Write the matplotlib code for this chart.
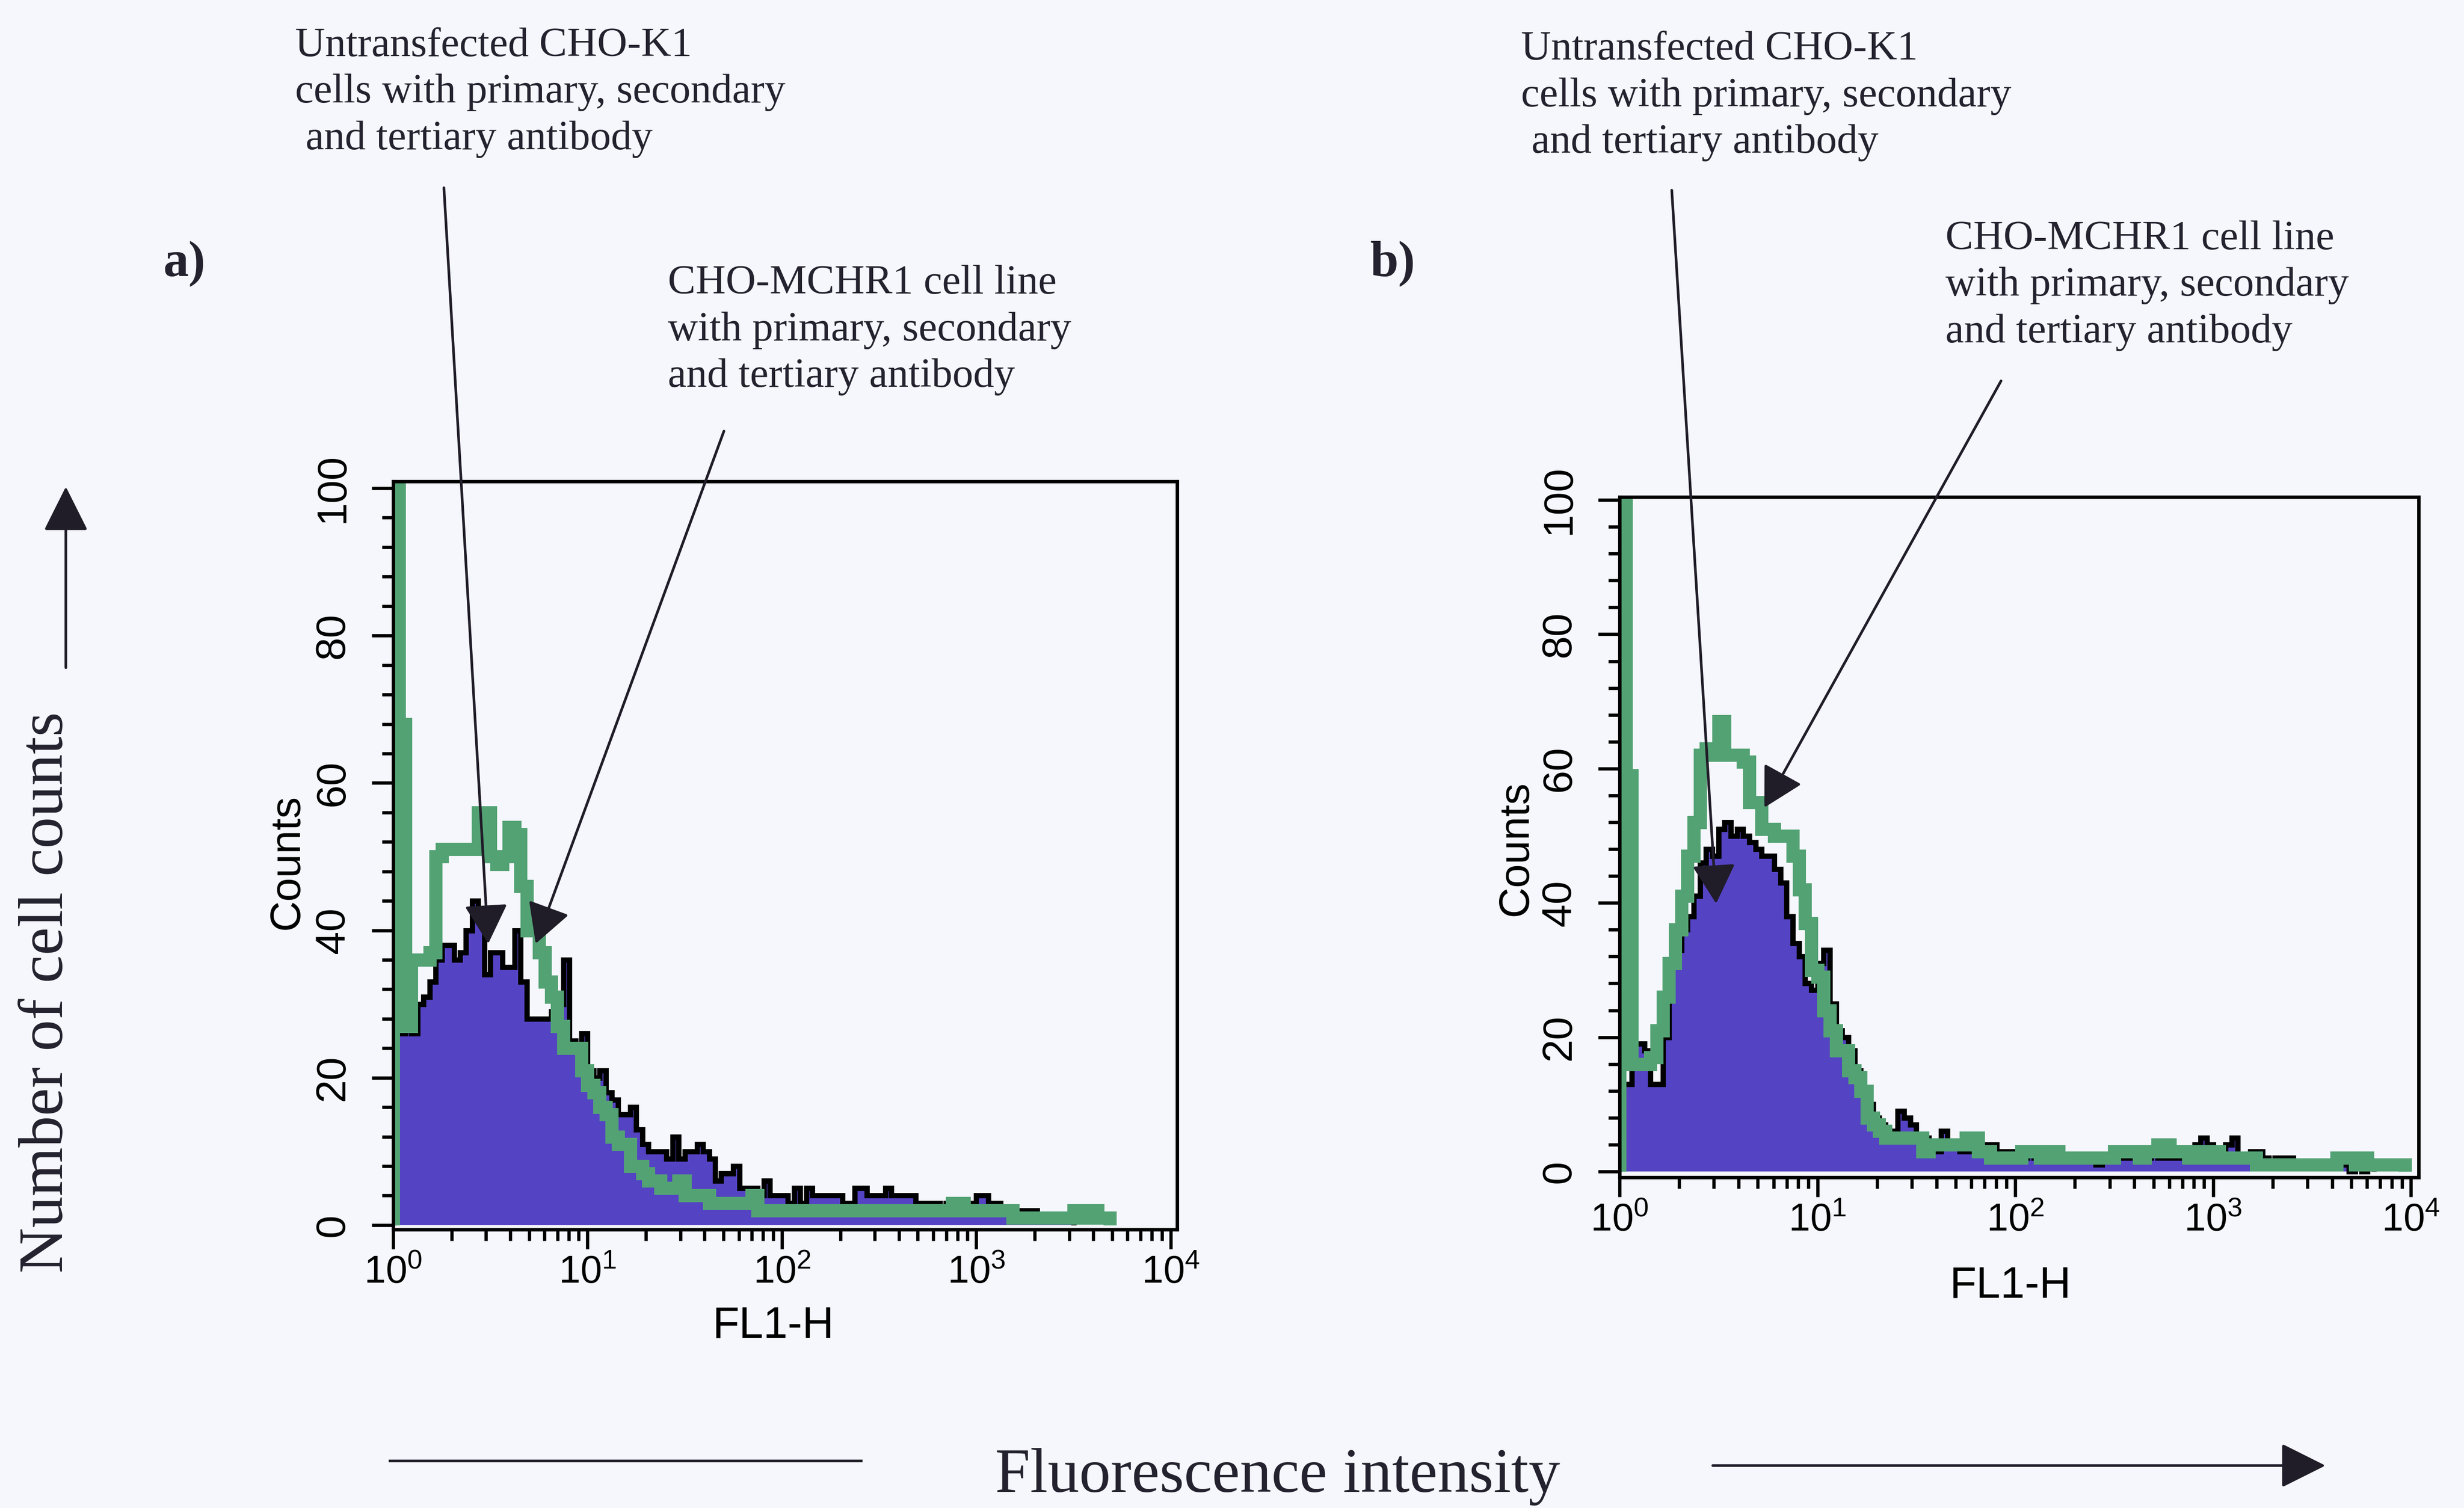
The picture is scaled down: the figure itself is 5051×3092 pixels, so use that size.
import numpy as np
import matplotlib
matplotlib.use("Agg")
import matplotlib.pyplot as plt
from matplotlib.lines import Line2D
from matplotlib.patches import FancyArrowPatch
from matplotlib.ticker import FixedLocator, MultipleLocator, LogLocator, NullFormatter

# ---------------------------------------------------------------------------
# FL1-H histograms: 128 logarithmic channels from 10^0 to 10^4 (32 per decade)
# ---------------------------------------------------------------------------
channels_per_decade = 32
n_decades = 4

# a) untransfected CHO-K1 (filled) and CHO-MCHR1 (outline)
a_untransfected = [
    26, 26, 35, 26, 30, 31, 33, 36, 38, 38,
    36, 37, 40, 44, 42, 34, 37, 37, 35, 35,
    40, 33, 28, 28, 28, 28, 29, 30, 36, 25,
    24, 26, 21, 20, 21, 18, 17, 15, 15, 16,
    13, 11, 10, 10, 10, 9, 12, 9, 10, 10,
    11, 10, 9, 6, 7, 7, 8, 5, 5, 5,
    4, 6, 4, 4, 4, 3, 5, 3, 5, 4,
    4, 4, 4, 4, 3, 3, 5, 5, 4, 4,
    4, 5, 4, 4, 4, 4, 3, 3, 3, 3,
    2, 3, 2, 2, 2, 3, 4, 4, 3, 3,
    2, 2, 2, 2, 2, 2, 1, 1, 1, 1,
    1, 1, 0, 0, 0, 0, 0, 0, 0, 0,
    0, 0, 0, 0, 0, 0, 0, 0,
]
a_mchr1 = [
    140, 68, 27, 36, 36, 36, 37, 50, 51, 51,
    51, 51, 51, 51, 56, 56, 50, 49, 50, 54,
    53, 46, 40, 40, 37, 33, 31, 27, 24, 24,
    24, 21, 19, 18, 16, 15, 12, 11, 11, 8,
    8, 7, 6, 6, 5, 5, 5, 6, 4, 4,
    4, 4, 3, 3, 3, 3, 3, 3, 3, 4,
    2, 2, 2, 2, 2, 2, 2, 2, 2, 2,
    2, 2, 2, 2, 2, 2, 2, 2, 2, 2,
    2, 2, 2, 2, 2, 2, 2, 2, 2, 2,
    2, 2, 3, 3, 2, 2, 2, 2, 2, 2,
    2, 2, 1, 1, 1, 1, 1, 1, 1, 1,
    1, 1, 2, 1, 1, 2, 1, 1, 0, 0,
    0, 0, 0, 0, 0, 0, 0, 0,
]

# b) untransfected CHO-K1 (filled) and CHO-MCHR1 (outline)
b_untransfected = [
    13, 13, 19, 19, 18, 13, 13, 20, 31, 33,
    36, 38, 41, 46, 48, 47, 51, 52, 50, 51,
    50, 49, 48, 47, 47, 45, 43, 38, 34, 32,
    28, 27, 31, 33, 25, 21, 20, 18, 15, 12,
    10, 8, 7, 6, 6, 9, 8, 7, 5, 5,
    4, 3, 6, 4, 4, 3, 3, 3, 3, 4,
    4, 3, 3, 3, 2, 2, 3, 2, 2, 3,
    2, 2, 2, 2, 2, 2, 2, 1, 2, 2,
    3, 2, 2, 3, 3, 2, 3, 2, 2, 2,
    2, 2, 3, 4, 5, 4, 2, 2, 4, 5,
    2, 2, 3, 3, 2, 1, 2, 2, 2, 1,
    1, 1, 1, 1, 1, 1, 1, 1, 0, 1,
    0, 1, 0, 0, 0, 0, 0, 0,
]
b_mchr1 = [
    140, 59, 16, 16, 16, 17, 21, 26, 31, 36,
    41, 47, 52, 62, 63, 62, 67, 62, 62, 62,
    61, 55, 55, 51, 51, 50, 50, 50, 47, 42,
    37, 30, 29, 24, 21, 18, 18, 15, 14, 12,
    8, 7, 6, 5, 5, 5, 5, 5, 5, 3,
    4, 4, 4, 4, 4, 4, 5, 5, 3, 3,
    2, 2, 2, 2, 2, 3, 3, 3, 2, 2,
    3, 2, 2, 2, 2, 2, 2, 2, 2, 2,
    3, 3, 3, 3, 2, 3, 3, 4, 4, 3,
    3, 3, 2, 3, 2, 2, 3, 2, 2, 2,
    2, 2, 2, 1, 1, 1, 1, 1, 1, 1,
    1, 1, 1, 1, 1, 1, 2, 2, 2, 1,
    2, 1, 1, 1, 1, 1, 1, 0,
]

y_ticks = [0, 20, 40, 60, 80, 100]
x_tick_exponents = [0, 1, 2, 3, 4]

label_untransfected = "Untransfected CHO-K1\ncells with primary, secondary\n and tertiary antibody"
label_mchr1 = "CHO-MCHR1 cell line\nwith primary, secondary\nand tertiary antibody"

# ---------------------------------------------------------------------------
# Styling
# ---------------------------------------------------------------------------
W, H, DPI = 5051, 3092, 300
BG = "#f5f7fc"
PURPLE = "#5443c3"
GREEN = "#53a274"
INK = "#24222e"

SANS = ["Liberation Sans", "DejaVu Sans"]
SERIF = ["Liberation Serif", "DejaVu Serif"]

plt.rcParams["font.family"] = SANS
plt.rcParams["mathtext.fontset"] = "custom"
plt.rcParams["mathtext.rm"] = "Liberation Sans"
plt.rcParams["mathtext.default"] = "regular"

fig = plt.figure(figsize=(W / DPI, H / DPI), dpi=DPI, facecolor=BG)


def fx(px):
    return px / W


def fy(py):
    return 1 - py / H


edges = np.logspace(0, n_decades, n_decades * channels_per_decade + 1)


def occupied(values):
    """Channels up to the last non-empty one."""
    v = np.asarray(values, dtype=float)
    n = int(np.nonzero(v)[0][-1]) + 1
    return v[:n], edges[:n + 1]


def draw_panel(rect, filled, outline, xmax, ylim):
    ax = fig.add_axes(rect)
    ax.set_facecolor(BG)
    fv, fe = occupied(filled)
    ov, oe = occupied(outline)
    ax.stairs(fv, fe, baseline=0, fill=True, color=PURPLE, lw=0, zorder=1)
    ax.stairs(fv, fe, baseline=0, color="black", lw=2.6, zorder=1.5)
    ax.stairs(ov, oe, baseline=0, color=GREEN, lw=6.5, zorder=2)

    ax.set_xscale("log")
    ax.set_xlim(1, xmax)
    ax.set_ylim(*ylim)
    for s in ax.spines.values():
        s.set_linewidth(1.7)
        s.set_color("black")

    ax.yaxis.set_major_locator(FixedLocator(y_ticks))
    ax.yaxis.set_minor_locator(MultipleLocator(4))
    ax.set_yticklabels([str(v) for v in y_ticks])
    ax.xaxis.set_major_locator(FixedLocator([10.0 ** e for e in x_tick_exponents]))
    ax.xaxis.set_minor_locator(LogLocator(base=10, subs=np.arange(2, 10), numticks=60))
    ax.xaxis.set_minor_formatter(NullFormatter())
    ax.set_xticklabels([r"$\mathregular{10^{%d}}$" % e for e in x_tick_exponents])

    ax.tick_params(axis="y", which="major", direction="out", length=10.5, width=1.6,
                   pad=9.5, labelsize=20.5, labelrotation=90)
    ax.tick_params(axis="y", which="minor", direction="out", length=5.5, width=1.6)
    ax.tick_params(axis="x", which="major", direction="out", length=9.5, width=1.6,
                   pad=3, labelsize=19)
    ax.tick_params(axis="x", which="minor", direction="out", length=5.5, width=1.6)
    for lab in ax.get_yticklabels():
        lab.set_va("center")
    return ax


ax_a = draw_panel([fx(806), fy(2521), 1607 / W, 1534 / H],
                  a_untransfected, a_mchr1, 10 ** 4.033, (-0.6, 100.93))
ax_b = draw_panel([fx(3320), fy(2414), 1638 / W, 1395 / H],
                  b_untransfected, b_mchr1, 10 ** 4.039, (-0.87, 100.44))

# axis titles of the two cytometer plots
for (cx, cy), (lx, ly) in [((589, 1767), (1585, 2720)), ((3108, 1739), (4121, 2638))]:
    fig.text(fx(cx), fy(cy), "Counts", rotation=90, ha="center", va="center",
             fontsize=21, color="black")
    fig.text(fx(lx), fy(ly), "FL1-H", ha="center", va="center",
             fontsize=21.5, color="black")

# panel letters
fig.text(fx(335), fy(541), "a)", ha="left", va="center", fontsize=25,
         fontweight="bold", family=SERIF, color=INK)
fig.text(fx(2809), fy(541), "b)", ha="left", va="center", fontsize=25,
         fontweight="bold", family=SERIF, color=INK)

# callout texts
callouts = [
    ((605, 190), label_untransfected),
    ((1369, 677), label_mchr1),
    ((3118, 197), label_untransfected),
    ((3988, 586), label_mchr1),
]
for (tx, ty), txt in callouts:
    fig.text(fx(tx), fy(ty), txt, ha="left", va="center", fontsize=20.5,
             family=SERIF, color=INK, linespacing=1.32)

# callout arrows pointing into each histogram
arrow_kw = dict(arrowstyle="-|>,head_length=0.4,head_width=0.22", mutation_scale=42,
                lw=1.3, color="#201c28", shrinkA=0, shrinkB=0)
pointers = [
    (ax_a, (10 ** 0.489, 38.2), (910, 385)),
    (ax_a, (10 ** 0.733, 38.2), (1484, 884)),
    (ax_b, (10 ** 0.488, 39.9), (3427, 390)),
    (ax_b, (10 ** 0.732, 54.2), (4102, 781)),
]
for ax, tip, (sx, sy) in pointers:
    ax.annotate("", xy=tip, xycoords="data", xytext=(fx(sx), fy(sy)),
                textcoords="figure fraction", arrowprops=arrow_kw,
                annotation_clip=False)

# shared axis captions with direction arrows
fig.text(fx(97), fy(2035), "Number of cell counts", rotation=90, ha="center",
         va="center", fontsize=31, family=SERIF, color=INK)
fig.add_artist(FancyArrowPatch((fx(135), fy(1369)), (fx(135), fy(998)),
                               transform=fig.transFigure,
                               arrowstyle="-|>,head_length=0.4,head_width=0.2",
                               mutation_scale=48, lw=1.3, color="#201c28",
                               shrinkA=0, shrinkB=0))

fig.text(fx(2619), fy(3028), "Fluorescence intensity", ha="center", va="center",
         fontsize=31, family=SERIF, color=INK)
fig.add_artist(Line2D([fx(799), fx(1765)], [fy(2995), fy(2995)],
                      transform=fig.transFigure, lw=1.3, color="#201c28"))
fig.add_artist(FancyArrowPatch((fx(3511), fy(3005)), (fx(4767), fy(3005)),
                               transform=fig.transFigure,
                               arrowstyle="-|>,head_length=0.4,head_width=0.2",
                               mutation_scale=48, lw=1.3, color="#201c28",
                               shrinkA=0, shrinkB=0))

fig.savefig("out.png", dpi=DPI, facecolor=BG)
